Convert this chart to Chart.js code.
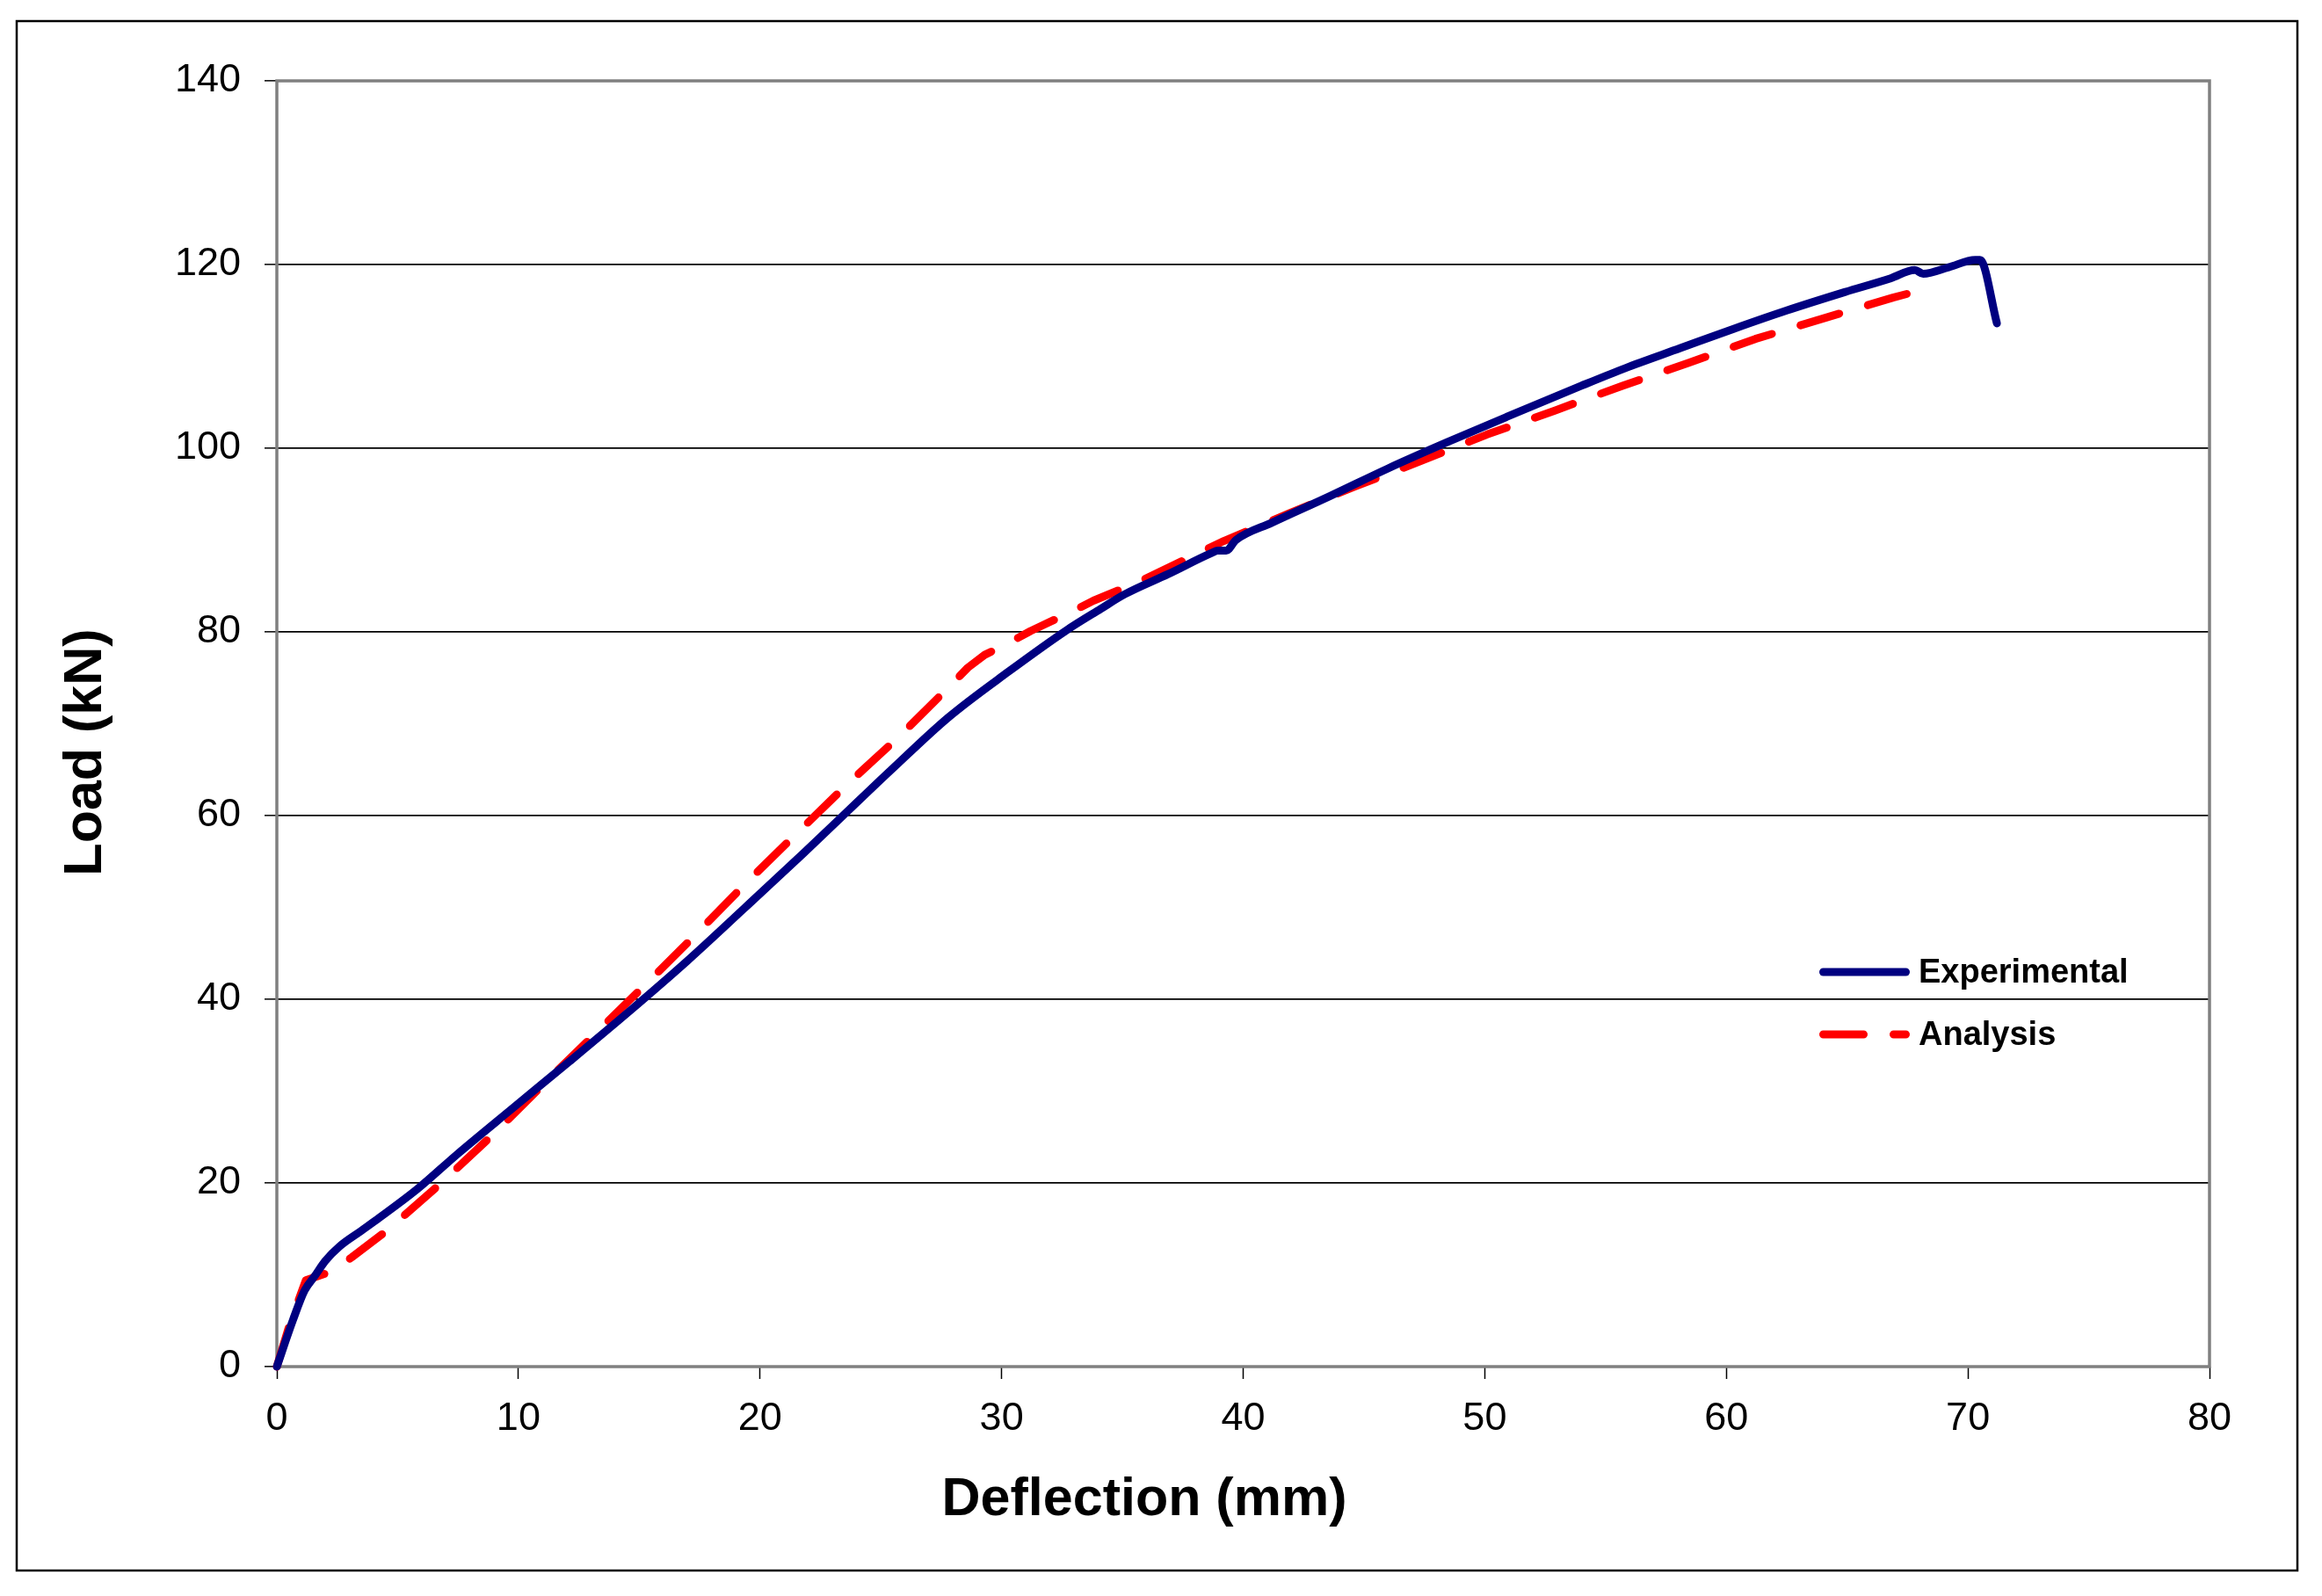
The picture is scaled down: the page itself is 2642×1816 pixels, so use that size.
<!DOCTYPE html>
<html>
<head>
<meta charset="utf-8">
<script src="https://cdn.jsdelivr.net/npm/chart.js@4.4.0/dist/chart.umd.min.js"></script>
<style>
  html, body { margin: 0; padding: 0; background: #fff; }
  #wrap { width: 2642px; height: 1816px; position: relative; }
</style>
</head>
<body>
<div id="wrap"><canvas id="chart"></canvas></div>
<script>
// ---- data ----
const seriesNames = ["Experimental", "Analysis"];

const expDeflection = [0, 0.67, 1.15, 1.58, 2.0, 2.6, 3.5, 4.24, 5.8, 7.5, 9.7, 12.1, 14.55, 17.0, 19.35, 21.8, 23.6, 25.4, 27.8, 30.3, 32.7, 34.1, 35.1, 36.9, 38.7, 38.95, 39.3, 39.7, 41.2, 43.6, 46.0, 48.4, 50.9, 54.0, 55.8, 58.1, 60.3, 62.5, 64.9, 66.8, 67.8, 68.15, 69.2, 70.3, 70.5, 71.2];
const expLoad = [0, 5.1, 8.3, 9.9, 11.5, 13.1, 14.8, 16.2, 19.3, 23.2, 28.0, 33.2, 38.6, 44.2, 49.9, 55.9, 60.4, 64.9, 70.7, 75.7, 80.2, 82.5, 84.1, 86.3, 88.6, 88.85, 88.85, 90.0, 91.9, 94.8, 97.8, 100.6, 103.4, 106.8, 108.7, 110.9, 113.0, 115.0, 117.0, 118.5, 119.4, 119.0, 119.7, 120.5, 120.5, 113.6];

const anaDeflection = [0, 0.55, 1.2, 2.3, 3.1, 4.6, 6.85, 9.0, 11.1, 13.2, 15.3, 17.4, 19.4, 21.5, 23.65, 25.8, 27.9, 28.6, 29.3, 30.3, 31.2, 32.9, 33.8, 35.65, 39.2, 41.9, 44.6, 47.35, 50.1, 52.9, 55.7, 58.45, 61.2, 64.1, 66.9, 67.9];
const anaLoad = [0, 4.75, 9.4, 10.4, 11.9, 14.9, 20.1, 25.4, 30.9, 36.3, 41.7, 47.2, 52.6, 58.0, 63.5, 68.7, 74.2, 76.1, 77.5, 78.8, 80.1, 82.2, 83.4, 85.4, 89.9, 92.9, 95.8, 98.6, 101.5, 104.1, 106.8, 109.3, 111.9, 114.2, 116.4, 117.1];

const xTicks = [0, 10, 20, 30, 40, 50, 60, 70, 80];
const yTicks = [0, 20, 40, 60, 80, 100, 120, 140];

const xTitle = "Deflection (mm)";
const yTitle = "Load (kN)";

const FONT = '"Liberation Sans", Arial, Helvetica, sans-serif';
Chart.defaults.font.family = FONT;

const toPoints = (xs, ys) => xs.map((x, i) => ({ x: x, y: ys[i] }));

/* =========================
   FRAME, TITLES, LEGEND
========================= */
const decor = {
    id: "decor",
    beforeDraw(chart) {
        const ctx = chart.ctx;
        ctx.save();
        ctx.fillStyle = "#fff";
        ctx.fillRect(0, 0, chart.width, chart.height);
        ctx.strokeStyle = "#000";
        ctx.lineWidth = 2.5;
        ctx.strokeRect(19, 24, 2595, 1763);
        ctx.restore();
    },
    beforeDatasetsDraw(chart) {
        const { ctx, chartArea: a } = chart;
        ctx.save();
        ctx.strokeStyle = "#808080";
        ctx.lineWidth = 3.5;
        ctx.strokeRect(a.left, a.top, a.right - a.left, a.bottom - a.top);
        ctx.restore();
    },
    afterDraw(chart) {
        const { ctx } = chart;
        ctx.save();
        ctx.fillStyle = "#000";
        ctx.font = "bold 61px " + FONT;
        ctx.textAlign = "center";
        ctx.textBaseline = "alphabetic";
        ctx.fillText(xTitle, 1302, 1724);

        ctx.save();
        ctx.translate(115, 856);
        ctx.rotate(-Math.PI / 2);
        ctx.fillText(yTitle, 0, 0);
        ctx.restore();

        // legend
        const lx0 = 2074.5, lx1 = 2168.5, tx = 2183;
        const rows = [1106, 1177];
        ctx.font = "bold 38px " + FONT;
        ctx.textAlign = "left";
        chart.data.datasets.forEach((ds, i) => {
            const y = rows[i];
            ctx.beginPath();
            ctx.strokeStyle = ds.borderColor;
            ctx.lineWidth = ds.borderWidth;
            ctx.lineCap = "round";
            ctx.setLineDash(ds.borderDash || []);
            ctx.moveTo(lx0, y);
            ctx.lineTo(lx1, y);
            ctx.stroke();
            ctx.setLineDash([]);
            ctx.fillText(ds.label, tx, y + 12);
        });
        ctx.restore();
    }
};

new Chart(document.getElementById("chart"), {
    type: "scatter",
    data: {
        datasets: [
            {
                label: seriesNames[0],
                data: toPoints(expDeflection, expLoad),
                showLine: true,
                borderColor: "#000080",
                borderWidth: 9,
                borderCapStyle: "round",
                borderJoinStyle: "round",
                cubicInterpolationMode: "monotone",
                pointRadius: 0,
                clip: false
            },
            {
                label: seriesNames[1],
                data: toPoints(anaDeflection, anaLoad),
                showLine: true,
                borderColor: "#ff0000",
                borderWidth: 9,
                borderDash: [46, 34],
                borderCapStyle: "round",
                borderJoinStyle: "round",
                pointRadius: 0,
                tension: 0,
                clip: false
            }
        ]
    },
    options: {
        responsive: true,
        maintainAspectRatio: false,
        animation: false,
        devicePixelRatio: 1,
        layout: { padding: { left: 0, top: 92, right: 128, bottom: 0 } },
        plugins: {
            legend: { display: false },
            tooltip: { enabled: false }
        },
        scales: {
            x: {
                type: "linear",
                min: 0,
                max: 80,
                afterBuildTicks: s => { s.ticks = xTicks.map(v => ({ value: v })); },
                afterFit: s => { s.height = 261; },
                ticks: { color: "#000", font: { size: 45 }, padding: 19, maxRotation: 0 },
                grid: { drawOnChartArea: false, drawTicks: true, tickLength: 14, tickColor: "#000", tickWidth: 1.5 },
                border: { display: false },
                title: { display: false }
            },
            y: {
                type: "linear",
                min: 0,
                max: 140,
                afterBuildTicks: s => { s.ticks = yTicks.map(v => ({ value: v })); },
                afterFit: s => { s.width = 315; },
                ticks: { color: "#000", font: { size: 45 }, padding: 27 },
                grid: { color: "#000", lineWidth: 1.7, drawTicks: true, tickLength: 14, tickColor: "#000", tickWidth: 1.5 },
                border: { display: false },
                title: { display: false }
            }
        }
    },
    plugins: [decor]
});
</script>
</body>
</html>
